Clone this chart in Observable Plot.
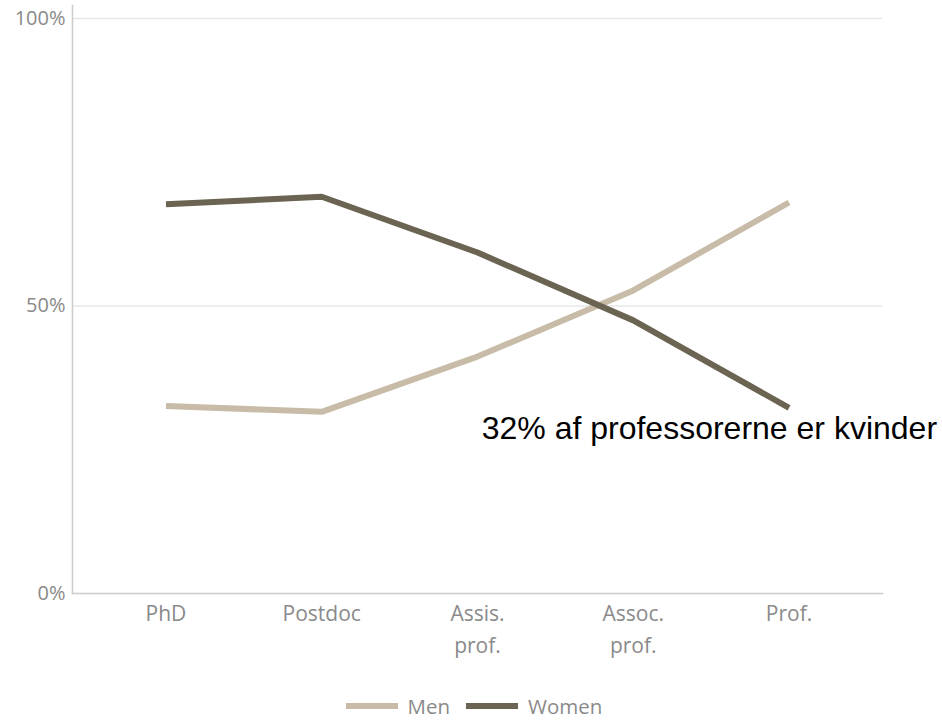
<!DOCTYPE html>
<html>
<head>
<meta charset="utf-8">
<script src="https://cdn.jsdelivr.net/npm/d3@7"></script>
<script src="https://cdn.jsdelivr.net/npm/@observablehq/plot@0.6"></script>
<style>
  body { margin: 0; background: #fff; }
  #chart { position: relative; width: 942px; }
  .legend { display: flex; justify-content: center; align-items: center;
    font-family: "Open Sans", sans-serif; font-size: 20.5px; color: #8a8a8a; margin-top: 12px; padding-left: 6px; }
  .sw { display: inline-block; width: 52px; height: 6px; margin-right: 10px; }
  .item { display: flex; align-items: center; margin: 0 8px; }
</style>
</head>
<body>
<div id="chart"></div>
<script>
const categories = ["PhD", "Postdoc", "Assis.\nprof.", "Assoc.\nprof.", "Prof."];
const men = [32.6, 31.6, 41.2, 52.7, 68.0];
const women = [67.7, 69.0, 59.3, 47.5, 32.3];
const series = ["Men", "Women"];
const colors = ["#c8bca8", "#6b6452"];
const yTicks = [0, 50, 100];
const gridTicks = [50, 100];
const note = "32% af professorerne er kvinder";

const rows = [];
categories.forEach((c, i) => {
  rows.push({cat: c, series: "Men", value: men[i]});
  rows.push({cat: c, series: "Women", value: women[i]});
});
const noteRow = [{cat: categories[4], value: women[4], text: note}];

const plot = Plot.plot({
  width: 942,
  height: 680,
  marginLeft: 72,
  marginRight: 60,
  marginTop: 18,
  marginBottom: 87,
  style: {fontFamily: "Open Sans, sans-serif", fontSize: "20px", color: "#8a8a8a"},
  x: {type: "point", domain: categories, padding: 0.6, round: false},
  y: {domain: [0, 100]},
  color: {domain: series, range: colors},
  marks: [
    Plot.gridY(gridTicks, {stroke: "#e8e8e8", strokeOpacity: 1, strokeWidth: 1.5}),
    Plot.frame({anchor: "left", stroke: "#cccccc", strokeWidth: 1.5, insetTop: -13}),
    Plot.frame({anchor: "bottom", stroke: "#cccccc", strokeWidth: 1.5}),
    Plot.axisY({ticks: yTicks, tickSize: 0, tickPadding: 7, tickFormat: d => d + "%", label: null, fill: "#8a8a8a", fontSize: 20}),
    Plot.axisX({tickSize: 0, tickPadding: 5, label: null, lineHeight: 1.52, fill: "#8a8a8a", fontSize: 21}),
    Plot.line(rows, {x: "cat", y: "value", z: "series", stroke: "series", strokeWidth: 6, strokeLinecap: "butt", strokeLinejoin: "round"}),
    Plot.text(noteRow, {x: "cat", y: "value", text: "text", textAnchor: "end", dx: 148, dy: 21,
      fill: "#000", fontFamily: "Liberation Sans, Arial, sans-serif", fontSize: 32})
  ]
});
document.getElementById("chart").appendChild(plot);

const legend = document.createElement("div");
legend.className = "legend";
series.forEach((s, i) => {
  const item = document.createElement("span");
  item.className = "item";
  const sw = document.createElement("span");
  sw.className = "sw";
  sw.style.background = colors[i];
  item.appendChild(sw);
  item.appendChild(document.createTextNode(s));
  legend.appendChild(item);
});
document.getElementById("chart").appendChild(legend);
</script>
</body>
</html>
